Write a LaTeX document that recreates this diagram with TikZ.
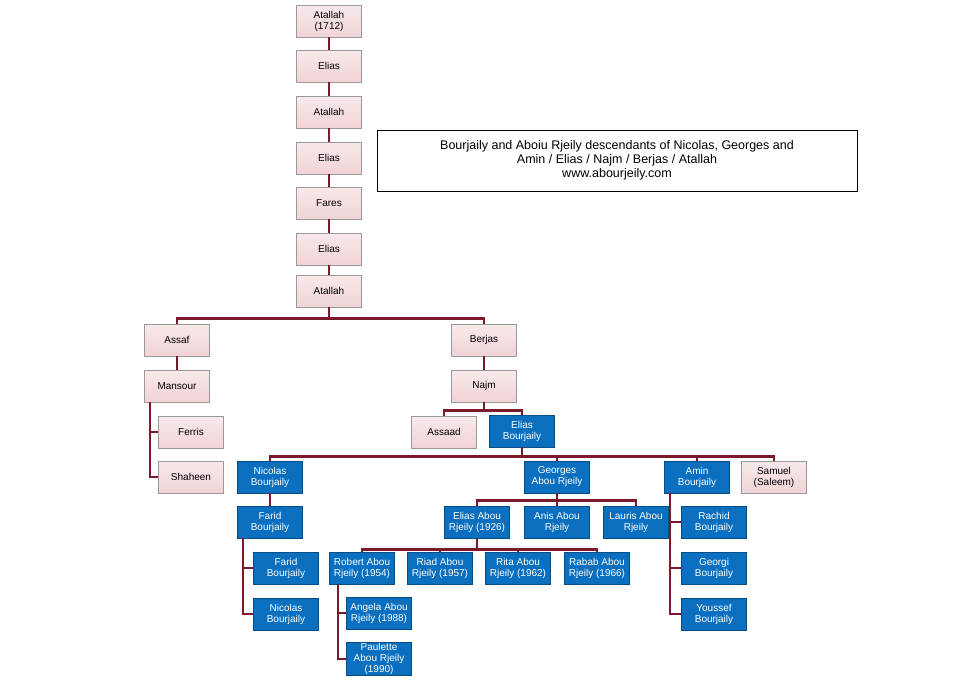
\documentclass[tikz,border=0pt]{standalone}
\usepackage{fontspec}
\setmainfont{Liberation Sans}
\definecolor{ln}{HTML}{7B1A2A}
\definecolor{bl}{HTML}{0A6FBF}
\definecolor{pk}{HTML}{F1D3D6}
\begin{document}
\begin{tikzpicture}[x=1pt,y=-1pt,
 base/.style={draw, minimum width=65pt, minimum height=32pt, inner sep=1pt, align=center, font=\fontsize{10}{11}\selectfont},
 p/.style={base, fill=pk, draw=gray!80, top color=pk!50, bottom color=pk},
 b/.style={base, fill=bl, draw=bl!70!black, text=white},
 c/.style={draw=ln, line width=2.6pt}]
\useasboundingbox (0,0) rectangle (960,691);
\node[p] (a1) at (329,21) {Atallah\\(1712)};
\node[p] (a2) at (329,66) {Elias};
\node[p] (a3) at (329,112) {Atallah};
\node[p] (a4) at (329,158) {Elias};
\node[p] (a5) at (329,203) {Fares};
\node[p] (a6) at (329,249) {Elias};
\node[p] (a7) at (329,291) {Atallah};
\node[draw, minimum width=480pt, minimum height=61pt, align=center, font=\fontsize{12.5}{14}\selectfont] (t) at (617,160.5) {Bourjaily and Aboiu Rjeily descendants of Nicolas, Georges and\\Amin / Elias / Najm / Berjas / Atallah\\www.abourjeily.com};
\node[p] (as) at (177,340) {Assaf};
\node[p] (be) at (484,340) {Berjas};
\node[p] (ma) at (177,386) {Mansour};
\node[p] (na) at (484,386) {Najm};
\node[p] (fe) at (191,432) {Ferris};
\node[p] (sh) at (191,477) {Shaheen};
\node[p] (asd) at (444,432) {Assaad};
\node[b] (eb) at (522,431) {Elias\\Bourjaily};
\node[b] (nb) at (270,477) {Nicolas\\Bourjaily};
\node[b] (gr) at (557,477) {Georges\\Abou Rjeily};
\node[b] (am) at (697,477) {Amin\\Bourjaily};
\node[p] (sa) at (774,477) {Samuel\\(Saleem)};
\node[b] (fb) at (270,522) {Farid\\Bourjaily};
\node[b] (fb2) at (286,568) {Farid\\Bourjaily};
\node[b] (nb2) at (286,614) {Nicolas\\Bourjaily};
\node[b] (ea) at (477,522) {Elias Abou\\Rjeily (1926)};
\node[b] (an) at (557,522) {Anis Abou\\Rjeily};
\node[b] (la) at (636,522) {Lauris Abou\\Rjeily};
\node[b] (ro) at (362,568) {Robert Abou\\Rjeily (1954)};
\node[b] (ri) at (440,568) {Riad Abou\\Rjeily (1957)};
\node[b] (rt) at (518,568) {Rita Abou\\Rjeily (1962)};
\node[b] (rb) at (597,568) {Rabab Abou\\Rjeily (1966)};
\node[b] (ag) at (379,613) {Angela Abou\\Rjeily (1988)};
\node[b] (pa) at (379,659) {Paulette\\Abou Rjeily\\(1990)};
\node[b] (rc) at (714,522) {Rachid\\Bourjaily};
\node[b] (ge) at (714,568) {Georgi\\Bourjaily};
\node[b] (yo) at (714,614) {Youssef\\Bourjaily};
% vertical chain
\foreach \u/\v in {a1/a2,a2/a3,a3/a4,a4/a5,a5/a6,a6/a7,as/ma,be/na,nb/fb}
  \draw[c] (\u.south) -- (\v.north);
% elbows
\foreach \u/\v/\d in {a7/as/11,a7/be/11,na/asd/8,na/eb/8,eb/nb/9,eb/gr/9,eb/am/9,eb/sa/9,gr/ea/7,gr/an/7,gr/la/7,ea/ro/11,ea/ri/11,ea/rt/11,ea/rb/11}
  \draw[c] (\u.south) -- ++(0,\d) -| (\v.north);
% side hangs
\foreach \u/\v/\s in {ma/fe/-27,ma/sh/-27,fb/fb2/-27,fb/nb2/-27,ro/ag/-24,ro/pa/-24,am/rc/-27,am/ge/-27,am/yo/-27}
  \draw[c] ([xshift=\s pt]\u.south) |- (\v.west);
\end{tikzpicture}
\end{document}
